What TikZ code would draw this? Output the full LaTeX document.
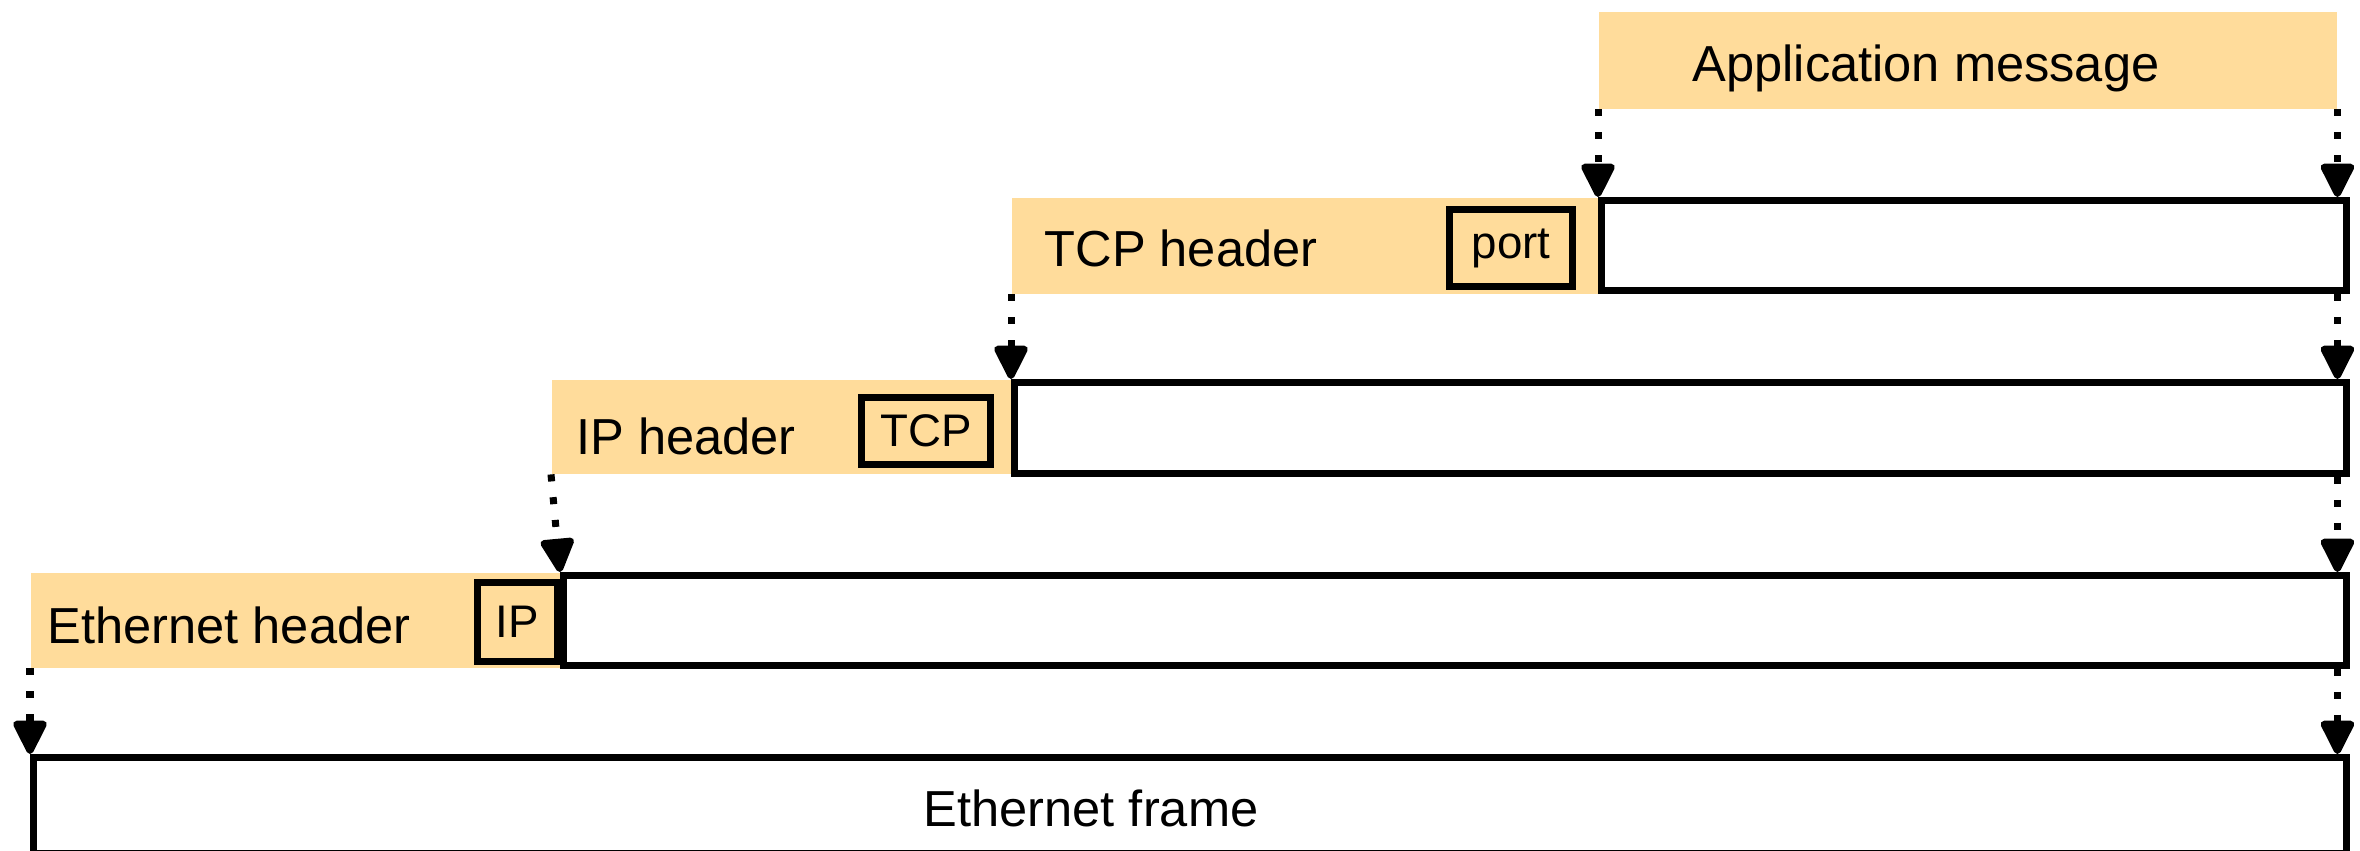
\documentclass[tikz,border=0pt]{standalone}
\usepackage{fontspec}
\setmainfont{Liberation Sans}
\usetikzlibrary{arrows.meta}
\definecolor{hdrorange}{RGB}{255,220,155}

\tikzset{
  hdr/.style={fill=hdrorange, inner sep=0pt, anchor=north west},
  payload/.style={draw, line width=2pt, fill=white, inner sep=0pt, anchor=north west},
  tag/.style={draw, line width=2pt, inner sep=0pt, anchor=north west, font=\fontsize{13}{15}\selectfont},
  lbl/.style={font=\fontsize{14.4}{17}\selectfont},
  down/.style={line width=2pt, dash pattern=on 2pt off 4.5pt, -{Triangle[length=3.8mm,width=3.6mm,round]}}
}

\begin{document}
\begin{tikzpicture}[x=0.1mm, y=-0.1mm]
\useasboundingbox (0,0) rectangle (2360,850);
\begin{scope}
    \node[hdr, minimum width=7.38cm, minimum height=0.97cm] (app) at (1598,11) {};
    \node[lbl] (applbl) at (1926,68) {Application message};

    \node[hdr, minimum width=5.87cm, minimum height=0.96cm] (tcph) at (1011,197) {};
    \node[payload, minimum width=7.45cm, minimum height=0.90cm] (tcpp) at (1598,197) {};
    \node[tag, minimum width=1.23cm, minimum height=0.77cm] (port) at (1446,206) {port};
    \node[lbl] (tcplbl) at (1181,248) {TCP header};

    \node[hdr, minimum width=4.60cm, minimum height=0.94cm] (iph) at (551,379) {};
    \node[payload, minimum width=13.32cm, minimum height=0.91cm] (ipp) at (1011,379) {};
    \node[tag, minimum width=1.29cm, minimum height=0.67cm] (tcptag) at (858,394) {TCP};
    \node[lbl] (iplbl) at (686,436) {IP header};

    \node[hdr, minimum width=5.30cm, minimum height=0.95cm] (ethh) at (30,572) {};
    \node[payload, minimum width=17.83cm, minimum height=0.90cm] (ethp) at (560,572) {};
    \node[tag, minimum width=0.80cm, minimum height=0.79cm] (iptag) at (474,579) {IP};
    \node[lbl] (ethlbl) at (229,625) {Ethernet header};

    \node[payload, minimum width=23.13cm, minimum height=0.96cm] (frame) at (30,754) {};
    \node[lbl] (framelbl) at (1091,808) {Ethernet frame};

    % encapsulation
    \path [down] (app.south west) edge (tcpp.north west);
    \path [down] (app.south east) edge (app.south east |- tcpp.north);
    \path [down] (tcph.south west) edge (ipp.north west);
    \path [down] (tcpp.south -| app.east) edge (ipp.north -| app.east);
    \path [down] (iph.south west) edge (ethp.north west);
    \path [down] (ipp.south -| app.east) edge (ethp.north -| app.east);
    \path [down] (ethh.south west) edge (frame.north west);
    \path [down] (ethp.south -| app.east) edge (frame.north -| app.east);
\end{scope}
\end{tikzpicture}
\end{document}
